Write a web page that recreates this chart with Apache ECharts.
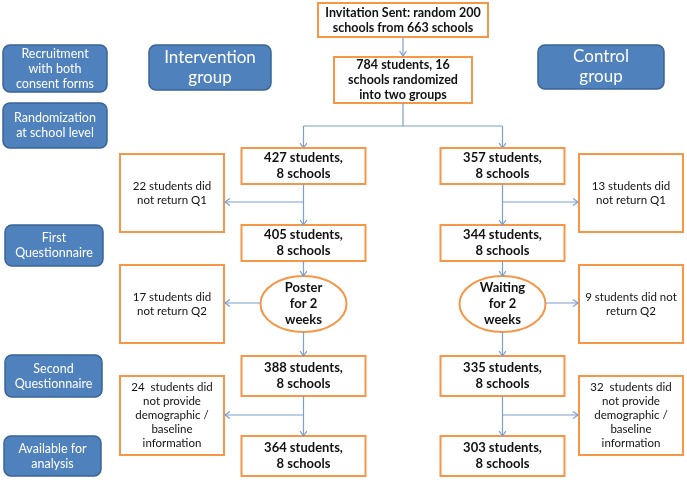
<!DOCTYPE html>
<html>
<head>
<meta charset="utf-8">
<script src="https://cdn.jsdelivr.net/npm/echarts@6/dist/echarts.min.js"></script>
<style>
  html, body { margin: 0; padding: 0; background: #fff; }
  #chart { width: 687px; height: 480px; }
</style>
</head>
<body>
<div id="chart"></div>
<script>
// texts of the flow diagram
const stageLabels = [
  'Recruitment\nwith both\nconsent forms',
  'Randomization\nat school level',
  'First\nQuestionnaire',
  'Second\nQuestionnaire',
  'Available for\nanalysis'
];
const groupLabels = ['Intervention\ngroup', 'Control\ngroup'];
const topSteps = [
  'Invitation Sent: random 200\nschools from 663 schools',
  '784 students, 16\nschools randomized\ninto two groups'
];
const interventionStudents = [427, 405, 388, 364];
const controlStudents = [357, 344, 335, 303];
const schoolsPerGroup = [8, 8, 8, 8];
const treatments = ['Poster\nfor 2\nweeks', 'Waiting\nfor 2\nweeks'];
const droppedLeft = [
  '22 students did\nnot return Q1',
  '17 students did\nnot return Q2',
  '24  students did\nnot provide\ndemographic /\nbaseline\ninformation'
];
const droppedRight = [
  '13 students did\nnot return Q1',
  '9 students did not\nreturn Q2',
  '32  students did\nnot provide\ndemographic /\nbaseline\ninformation'
];

const FONT = 'Lato, "Open Sans", sans-serif';
const BLUE = '#4F81BD';
const BLUE_EDGE = '#3A6494';
const ORANGE = '#F79646';
const LINE = '#7A9FD0';

const els = [];

function blueBox(x, y, w, h, text, size) {
  els.push({
    type: 'rect', shape: { x, y, width: w, height: h, r: 7 },
    style: { fill: BLUE, stroke: BLUE_EDGE, lineWidth: 1.5 }
  });
  els.push({
    type: 'text', x: x + w / 2, y: y + h / 2,
    style: { text, fill: '#fff', font: size + 'px ' + FONT, align: 'center', verticalAlign: 'middle', lineHeight: Math.round(size * 1.2) }
  });
}
function orangeBox(x, y, w, h, text, bold, size, lh) {
  els.push({
    type: 'rect', shape: { x, y, width: w, height: h },
    style: { fill: '#fff', stroke: ORANGE, lineWidth: 2 }
  });
  els.push({
    type: 'text', x: x + w / 2, y: y + h / 2,
    style: { text, fill: '#111', font: (bold ? 'bold ' : '') + size + 'px ' + FONT, align: 'center', verticalAlign: 'middle', lineHeight: lh }
  });
}
function ellipse(cx, cy, rx, ry, text) {
  els.push({
    type: 'ellipse', shape: { cx, cy, rx, ry },
    style: { fill: '#fff', stroke: ORANGE, lineWidth: 2 }
  });
  els.push({
    type: 'text', x: cx, y: cy,
    style: { text, fill: '#111', font: 'bold 13px ' + FONT, align: 'center', verticalAlign: 'middle', lineHeight: 16 }
  });
}
function line(points) {
  els.push({ type: 'polyline', shape: { points }, style: { stroke: LINE, lineWidth: 1.2, fill: null } });
}
function arrow(points) {
  line(points);
  const [x1, y1] = points[points.length - 2];
  const [x2, y2] = points[points.length - 1];
  const a = Math.atan2(y2 - y1, x2 - x1);
  const L = 6, s = 0.6;
  els.push({
    type: 'polyline',
    shape: { points: [
      [x2 - L * Math.cos(a - s), y2 - L * Math.sin(a - s)],
      [x2, y2],
      [x2 - L * Math.cos(a + s), y2 - L * Math.sin(a + s)]
    ] },
    style: { stroke: LINE, lineWidth: 1.2, fill: null }
  });
}

// left stage labels
const stageBoxes = [[3, 45, 104, 47], [3, 103, 104, 45], [5, 225, 98, 41], [5, 355, 97, 42], [4, 436, 97, 40]];
stageBoxes.forEach((b, i) => blueBox(b[0], b[1], b[2], b[3], stageLabels[i], 12.5));
blueBox(149, 45, 122, 45, groupLabels[0], 17);
blueBox(538, 45, 126, 44, groupLabels[1], 17);

// top of flow
orangeBox(318, 3, 170, 34, topSteps[0], true, 12.5, 15);
orangeBox(334, 57, 138, 46, topSteps[1], true, 12.5, 15);
arrow([[403, 37], [403, 56]]);
line([[403, 103], [403, 126]]);
line([[303.5, 126], [502.5, 126]]);
arrow([[303.5, 126], [303.5, 148]]);
arrow([[502.5, 126], [502.5, 148]]);

// group columns
const colX = [303.5, 502.5];
const rowY = [[148, 184], [225, 261], [356, 396], [436, 476]];
const groups = [interventionStudents, controlStudents];
groups.forEach((counts, g) => {
  const cx = colX[g];
  counts.forEach((n, r) => {
    orangeBox(cx - 62, rowY[r][0], 124, rowY[r][1] - rowY[r][0],
      n + ' students,\n' + schoolsPerGroup[r] + ' schools', true, 13, 16);
  });
  ellipse(cx, 304, 43, 28, treatments[g]);
  arrow([[cx, 184], [cx, 225]]);
  arrow([[cx, 261], [cx, 276]]);
  arrow([[cx, 332], [cx, 356]]);
  arrow([[cx, 396], [cx, 436]]);
});

// dropped-out boxes
const dropY = [[154, 232], [265, 343], [376, 455]];
dropY.forEach((d, i) => {
  orangeBox(120, d[0], 104, d[1] - d[0], droppedLeft[i], false, 11.5, 14);
  orangeBox(579, d[0], 104, d[1] - d[0], droppedRight[i], false, 11.5, 14);
});
arrow([[303.5, 202], [225, 202]]);
arrow([[260.5, 303], [225, 303]]);
arrow([[303.5, 415], [225, 415]]);
arrow([[502.5, 202], [578, 202]]);
arrow([[545.5, 303], [578, 303]]);
arrow([[502.5, 415], [578, 415]]);

const chart = echarts.init(document.getElementById('chart'));
chart.setOption({
  backgroundColor: '#fff',
  animation: false,
  graphic: { elements: els }
});
</script>
</body>
</html>
